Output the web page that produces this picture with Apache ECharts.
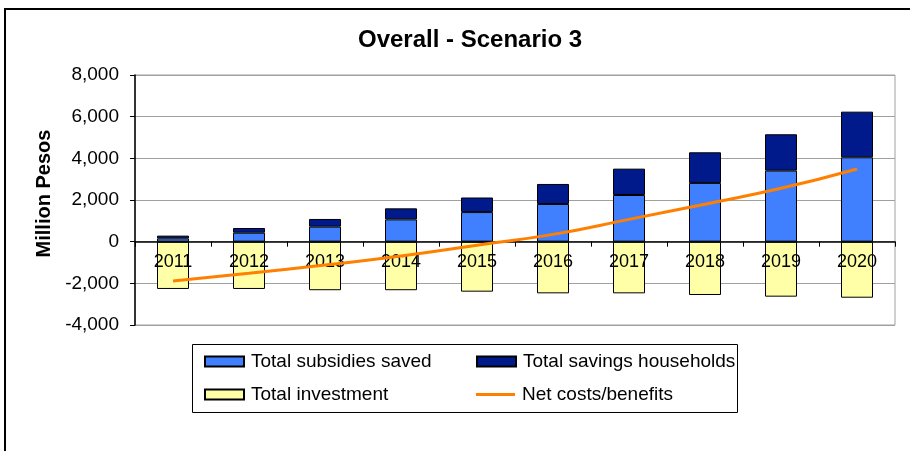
<!DOCTYPE html>
<html>
<head>
<meta charset="utf-8">
<script src="https://cdn.jsdelivr.net/npm/echarts@6/dist/echarts.min.js"></script>
<style>
  html, body { margin: 0; padding: 0; background: #fff; }
  #main { width: 910px; height: 451px; }
</style>
</head>
<body>
<div id="main"></div>
<script>
// data (million pesos)
var years = ['2011', '2012', '2013', '2014', '2015', '2016', '2017', '2018', '2019', '2020'];
var subsidiesSaved = [160, 430, 720, 1070, 1420, 1810, 2240, 2820, 3410, 4050];
var savingsHouseholds = [130, 225, 370, 530, 700, 960, 1265, 1470, 1745, 2190];
var investment = [-2270, -2270, -2330, -2330, -2400, -2480, -2480, -2560, -2640, -2690];
var netCosts = [-1890, -1520, -1120, -690, -170, 350, 1070, 1800, 2560, 3490];

var FONT = '"Liberation Sans", Arial, sans-serif';
var chart = echarts.init(document.getElementById('main'));

// one legend per item so they sit in a 2x2 block like the original
function legendItem(name, left, top, h) {
  return {
    data: [{ name: name, icon: 'rect' }], left: left, top: top,
    itemWidth: 39, itemHeight: h, itemGap: 0,
    textStyle: { fontFamily: FONT, fontSize: 19, color: '#000', padding: [0, 0, 0, 2] },
    selectedMode: false
  };
}

var option = {
  backgroundColor: '#fff',
  animation: false,
  title: {
    text: 'Overall - Scenario 3',
    left: 353, top: 23,
    textStyle: { fontFamily: FONT, fontSize: 24, fontWeight: 'bold', color: '#000' }
  },
  legend: [
    legendItem('Total subsidies saved', 199, 347, 10),
    legendItem('Total savings households', 471, 347, 10),
    legendItem('Total investment', 199, 380, 10),
    legendItem('Net costs/benefits', 471, 380, 3)
  ],
  graphic: [
    { type: 'rect', shape: { x: 5, y: 9, width: 1000, height: 1000 },
      style: { fill: 'none', stroke: '#000', lineWidth: 2 }, silent: true },
    { type: 'rect', shape: { x: 192.5, y: 344.5, width: 545, height: 68 },
      style: { fill: 'none', stroke: '#000', lineWidth: 1 }, silent: true }
  ],
  grid: {
    left: 135, right: 15, top: 75, bottom: 126,
    show: true, borderColor: '#a0a0a0', borderWidth: 1
  },
  xAxis: {
    type: 'category',
    data: years,
    position: 'bottom',
    offset: -83.33, // sit on the zero line, labels included
    z: 3,
    axisLine: { onZero: false, lineStyle: { color: '#000', width: 1.5 } },
    axisTick: { show: true, length: 5, lineStyle: { color: '#000' } },
    axisLabel: { fontFamily: FONT, fontSize: 18, color: '#000', margin: 11 }
  },
  yAxis: {
    type: 'value',
    min: -4000, max: 8000, interval: 2000,
    name: 'Million Pesos',
    nameLocation: 'middle', nameRotate: 90, nameGap: 81,
    nameTextStyle: { fontFamily: FONT, fontSize: 20, fontWeight: 'bold', color: '#000', padding: [0, 0, 0, 13] },
    axisLine: { show: true, lineStyle: { color: '#000', width: 1.5 } },
    axisTick: { show: true, length: 5, lineStyle: { color: '#000' } },
    axisLabel: {
      fontFamily: FONT, fontSize: 19, color: '#000', margin: 16,
      formatter: function (v) { return v.toLocaleString('en-US'); }
    },
    splitLine: { lineStyle: { color: '#a0a0a0', width: 1 } }
  },
  series: [
    {
      name: 'Total subsidies saved', type: 'bar', stack: 'a', barWidth: 32,
      data: subsidiesSaved,
      itemStyle: { color: '#4080ff', borderColor: '#000', borderWidth: 1 }
    },
    {
      name: 'Total savings households', type: 'bar', stack: 'a', barWidth: 32,
      data: savingsHouseholds,
      itemStyle: { color: '#001a8c', borderColor: '#000', borderWidth: 1 }
    },
    {
      name: 'Total investment', type: 'bar', stack: 'a', barWidth: 32,
      data: investment,
      itemStyle: { color: '#ffffa8', borderColor: '#000', borderWidth: 1 }
    },
    {
      name: 'Net costs/benefits', type: 'line', smooth: true,
      symbol: 'none', z: 5,
      data: netCosts,
      lineStyle: { color: '#ff8000', width: 3 },
      itemStyle: { color: '#ff8000' }
    }
  ]
};

chart.setOption(option);
</script>
</body>
</html>
